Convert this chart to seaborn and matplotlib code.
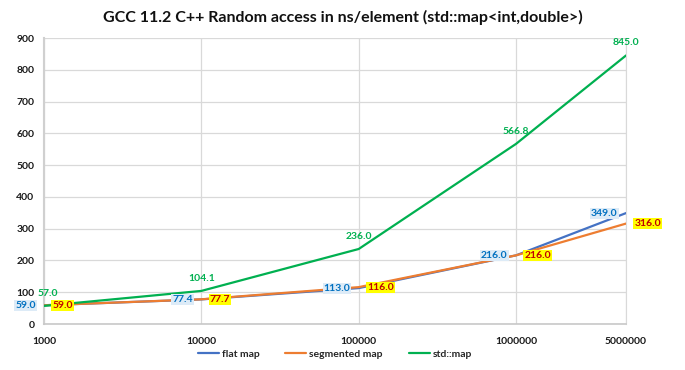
import matplotlib
matplotlib.use("Agg")
import matplotlib.pyplot as plt
import numpy as np
import pandas as pd
import seaborn as sns

# data
sizes = [1000, 10000, 100000, 1000000, 5000000]
flat_map = [59.0, 77.4, 113.0, 216.0, 349.0]
segmented_map = [59.0, 77.7, 116.0, 216.0, 316.0]
std_map = [57.0, 104.1, 236.0, 566.8, 845.0]
series_names = ["flat map", "segmented map", "std::map"]
tick_labels = ["1000", "10000", "100000", "1000000", "5000000"]

colors = {"flat map": "#4472C4", "segmented map": "#ED7D31", "std::map": "#00B050"}

df = pd.DataFrame({
    "size": sizes * 3,
    "ns": flat_map + segmented_map + std_map,
    "container": np.repeat(series_names, len(sizes)),
})

sns.set_style("white")
plt.rcParams["font.family"] = ["Lato", "DejaVu Sans"]
plt.rcParams["font.weight"] = "bold"

fig = plt.figure(figsize=(6.85, 3.7), dpi=100)
ax = fig.add_axes([44 / 685, 1 - 324 / 370, (626 - 44) / 685, (324 - 38) / 370])

ax.set_xscale("log")
sns.lineplot(data=df, x="size", y="ns", hue="container", palette=colors,
             linewidth=1.6, ax=ax, zorder=3)

ax.set_xlim(1000, 5000000)
ax.set_ylim(0, 900)
ax.set_yticks(range(0, 901, 100))
ax.set_xticks(sizes)
ax.set_xticklabels(tick_labels)
ax.xaxis.set_minor_locator(matplotlib.ticker.NullLocator())
ax.tick_params(axis="both", labelsize=7.5, length=0, colors="#1a1a1a")
ax.tick_params(axis="x", pad=9)
ax.tick_params(axis="y", pad=7)
for t in ax.get_xticklabels() + ax.get_yticklabels():
    t.set_fontweight("bold")
ax.grid(True, color="#D9D9D9", linewidth=0.9)
ax.set_axisbelow(True)
ax.spines["top"].set_visible(False)
ax.spines["right"].set_color("#D9D9D9")
ax.spines["left"].set_color("#D0D0D0")
ax.spines["left"].set_linewidth(1.5)
ax.spines["bottom"].set_color("#C8C8C8")
ax.spines["bottom"].set_linewidth(1.2)
ax.set_xlabel("")
ax.set_ylabel("")

# data labels: flat map left, segmented map right, std::map above
lbl_size = 7.5
for x, v in zip(sizes, flat_map):
    ax.annotate(f"{v:.1f}", (x, v), xytext=(-6, 0), textcoords="offset points",
                ha="right", va="center", fontsize=lbl_size, fontweight="bold", color="#0070C0",
                bbox=dict(boxstyle="square,pad=0.1", fc="#DDEBF7", ec="none"), zorder=5,
                annotation_clip=False)
for x, v in zip(sizes, segmented_map):
    ax.annotate(f"{v:.1f}", (x, v), xytext=(6, 0), textcoords="offset points",
                ha="left", va="center", fontsize=lbl_size, fontweight="bold", color="#C00000",
                bbox=dict(boxstyle="square,pad=0.1", fc="#FFFF00", ec="none"), zorder=5,
                annotation_clip=False)
for i, (x, v) in enumerate(zip(sizes, std_map)):
    dx = 3 if i == 0 else 0
    ax.annotate(f"{v:.1f}", (x, v), xytext=(dx, 9), textcoords="offset points",
                ha="center", va="center", fontsize=lbl_size, fontweight="bold", color="#00B050",
                zorder=5, annotation_clip=False)

sns.move_legend(ax, "center", bbox_to_anchor=(0.5, -(354 - 324) / 286), ncol=3,
                frameon=False, title=None, fontsize=7.5, handlelength=2.0,
                columnspacing=2.5, handletextpad=0.3)
for t in ax.get_legend().get_texts():
    t.set_fontweight("bold")

fig.text(0.5, 1 - 17 / 370, "GCC 11.2 C++ Random access in ns/element (std::map<int,double>)",
         ha="center", va="center", fontsize=11.5, fontweight="bold", color="#111111")

fig.savefig("out.png", dpi=100, facecolor="white")
